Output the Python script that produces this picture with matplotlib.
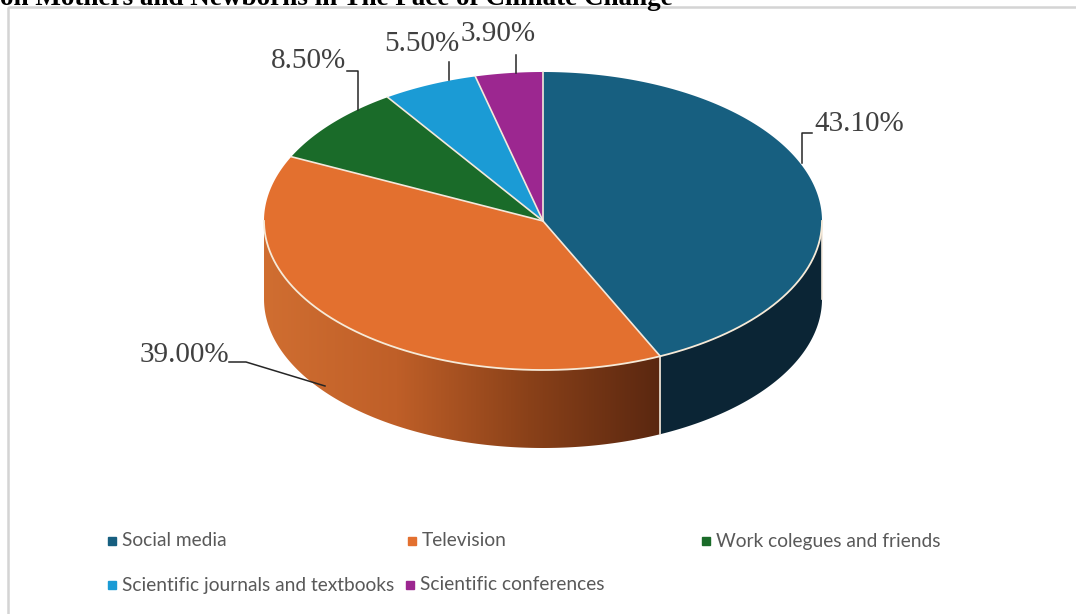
import numpy as np
import matplotlib.pyplot as plt
from matplotlib.patches import Polygon, Rectangle
from matplotlib.colors import LinearSegmentedColormap

# Data
categories = ["Social media", "Television", "Work colegues and friends",
              "Scientific journals and textbooks", "Scientific conferences"]
shares = [43.1, 39.0, 8.5, 5.5, 3.9]
top_colors = ["#175f80", "#e3702f", "#1a6b29", "#1b9bd5", "#9c2790"]
side_colors = ["#0b2535", "#a34e22", "#0f3f18", "#10648c", "#5e1757"]
title = "on Mothers and Newborns in The Face of Climate Change"

fig = plt.figure(figsize=(10.76, 6.14), dpi=100)
ax = fig.add_axes([0, 0, 1, 1])
ax.set_xlim(0, 1076)
ax.set_ylim(614, 0)
ax.axis('off')

# frame + cropped title
ax.add_patch(Rectangle((7.5, 6.5), 1075, 620, fill=False, ec="#d4d4d4", lw=1.8))
ax.text(0, 5, title, fontsize=19.5, fontweight='bold', family='Liberation Serif',
        ha='left', va='baseline', color='black')

# pie geometry (pixels)
cx, cy, rx, ry, depth = 543, 221, 279, 149, 78


def rim(a0, a1, n=200):
    t = np.radians(np.linspace(a0, a1, n))
    return cx + rx * np.sin(t), cy - ry * np.cos(t)


bounds = np.concatenate([[0], np.cumsum(shares)]) * 360 / sum(shares)

# sides (front half only)
tv_cmap = LinearSegmentedColormap.from_list("tv", ["#d06e31", "#bf5f28", "#8a4119", "#5a2710"])
for i, (a0, a1) in enumerate(zip(bounds[:-1], bounds[1:])):
    lo, hi = max(a0, 90), min(a1, 270)
    if lo >= hi:
        continue
    x, y = rim(lo, hi)
    pts = np.column_stack([np.r_[x, x[::-1]], np.r_[y, y[::-1] + depth]])
    if i == 1:
        poly = Polygon(pts, closed=True, fc='none', ec='none')
        ax.add_patch(poly)
        grad = np.linspace(0, 1, 256)[None, :]
        im = ax.imshow(grad, cmap=tv_cmap, extent=(x.min(), x.max(), y.max() + depth, y.min()),
                       aspect='auto', zorder=1)
        im.set_clip_path(poly)
    else:
        ax.add_patch(Polygon(pts, closed=True, fc=side_colors[i], ec='none', zorder=1))
    # boundary line on side
    ax.plot([x[0], x[0]], [y[0], y[0] + depth], color="#f3e9dc", lw=1.2, zorder=2)

# top wedges
for i, (a0, a1) in enumerate(zip(bounds[:-1], bounds[1:])):
    x, y = rim(a0, a1)
    pts = np.column_stack([np.r_[cx, x], np.r_[cy, y]])
    ax.add_patch(Polygon(pts, closed=True, fc=top_colors[i], ec='none', zorder=3))
for a in bounds[:-1]:
    x, y = rim(a, a, 2)
    ax.plot([cx, x[0]], [cy, y[0]], color="#f3e9dc", lw=1.2, zorder=4)
x, y = rim(90, 270)
ax.plot(x, y, color="#f6ead8", lw=1.3, zorder=4)

# percentage labels with leader lines
label_pos = [(814, 124), (140, 355), (271, 61), (384, 44), (461, 34)]
leaders = [[(812, 133), (802, 133), (802, 163)],
           [(229, 362), (246, 362), (325, 386)],
           [(347, 71), (358, 71), (358, 110)],
           [(449, 62), (449, 80)],
           [(516, 55), (516, 73)]]
for v, (tx, ty), ld in zip(shares, label_pos, leaders):
    ax.text(tx, ty, f"{v:.2f}%", fontsize=21, family='Liberation Serif', color="#404040",
            ha='left', va='center', zorder=5)
    lx, ly = zip(*ld)
    ax.plot(lx, ly, color="#262626", lw=1.1, zorder=5)

# legend
leg_pos = [(112, 541), (412, 541), (706, 541), (112, 585), (410, 585)]
for name, col, (lx, ly) in zip(categories, top_colors, leg_pos):
    ax.plot(lx, ly, marker='s', ms=5.5, color=col, ls='none')
    ax.text(lx + 10, ly, name, fontsize=13.8, family=['Lato', 'DejaVu Sans'],
            color="#595959", ha='left', va='center')

fig.savefig("out.png", dpi=100)
